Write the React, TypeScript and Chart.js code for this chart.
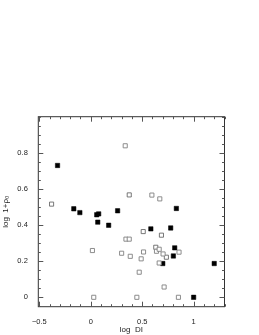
import React, { useEffect, useRef } from "react";
import { Chart, registerables } from "chart.js";

Chart.register(...registerables);

const filledX = [-0.323, -0.165, -0.106, 0.058, 0.077, 0.068, 0.174, 0.261, 0.584, 0.777, 0.832, 0.816, 0.803, 0.7, 1.2, 1.0];
const filledY = [0.73, 0.49, 0.469, 0.457, 0.462, 0.416, 0.399, 0.479, 0.379, 0.384, 0.492, 0.274, 0.229, 0.187, 0.187, 0.0];

const openX = [0.335, 0.594, 0.671, 0.342, 0.374, 0.016, 0.3, 0.384, 0.513, 0.49, 0.471, 0.639, 0.665, 0.703, 0.858, 0.665, 0.713, 0.029, 0.448, 0.852];
const openY = [0.839, 0.566, 0.545, 0.322, 0.322, 0.259, 0.244, 0.227, 0.251, 0.213, 0.139, 0.255, 0.266, 0.24, 0.25, 0.19, 0.057, 0.0, 0.0, 0.0];

const crossX = [-0.381, 0.374, 0.51, 0.687, 0.632, 0.735];
const crossY = [0.516, 0.567, 0.364, 0.344, 0.277, 0.222];

const xMajorTicks = [-0.5, 0, 0.5, 1];
const yMajorTicks = [0, 0.2, 0.4, 0.6, 0.8];
const xMinorStep = 0.1;
const yMinorStep = 0.05;

const xTitle = "log  DI";
const yTitle = "log  1+ρ₀";

const pts = (xs: number[], ys: number[]) => xs.map((x, i) => ({ x, y: ys[i] }));

const fmt = (v: number) => (v < 0 ? "\u2212" + String(Math.abs(v)) : String(v));

const frameTicks = {
  id: "frameTicks",
  beforeDatasetsDraw(chart: any) {
    const { ctx, chartArea: a, scales } = chart;
    const xs = scales.x;
    const ys = scales.y;
    ctx.save();
    ctx.strokeStyle = "#333";
    ctx.lineWidth = 1;
    ctx.strokeRect(a.left, a.top, a.right - a.left, a.bottom - a.top);
    ctx.strokeStyle = "#555";
    const majorLen = 5;
    const minorLen = 2.5;
    const isMajor = (v: number, arr: number[]) => arr.some((m) => Math.abs(m - v) < 1e-6);
    ctx.beginPath();
    for (let v = Math.ceil(xs.min / xMinorStep) * xMinorStep; v <= xs.max + 1e-9; v += xMinorStep) {
      const vv = Math.round(v * 1000) / 1000;
      const px = Math.round(xs.getPixelForValue(vv)) + 0.5;
      const len = isMajor(vv, xMajorTicks) ? majorLen : minorLen;
      ctx.moveTo(px, a.bottom);
      ctx.lineTo(px, a.bottom - len);
      ctx.moveTo(px, a.top);
      ctx.lineTo(px, a.top + len);
    }
    for (let v = Math.ceil(ys.min / yMinorStep) * yMinorStep; v <= ys.max + 1e-9; v += yMinorStep) {
      const vv = Math.round(v * 1000) / 1000;
      const py = Math.round(ys.getPixelForValue(vv)) + 0.5;
      const len = isMajor(vv, yMajorTicks) ? majorLen : minorLen;
      ctx.moveTo(a.left, py);
      ctx.lineTo(a.left + len, py);
      ctx.moveTo(a.right, py);
      ctx.lineTo(a.right - len, py);
    }
    ctx.stroke();
    ctx.restore();
  },
};

export default function App() {
  const ref = useRef<HTMLCanvasElement | null>(null);
  useEffect(() => {
    if (!ref.current) return;
    const font = { family: "'Liberation Sans', Arial, sans-serif", size: 7.5 };
    const titleFont = { family: "'Liberation Sans', Arial, sans-serif", size: 8 };
    const chart = new Chart(ref.current, {
      type: "scatter",
      data: {
        datasets: [
          {
            label: "open",
            data: pts(openX, openY),
            pointStyle: "rect",
            pointRadius: 2.9,
            backgroundColor: "#ffffff",
            borderColor: "#808080",
            borderWidth: 0.9,
          },
          {
            label: "crossedBox",
            data: pts(crossX, crossY),
            pointStyle: "rect",
            pointRadius: 2.9,
            backgroundColor: "#ffffff",
            borderColor: "#6a6a6a",
            borderWidth: 0.9,
          },
          {
            label: "crossedX",
            data: pts(crossX, crossY),
            pointStyle: "crossRot",
            pointRadius: 2.2,
            backgroundColor: "#777777",
            borderColor: "#777777",
            borderWidth: 0.8,
          },
          {
            label: "filled",
            data: pts(filledX, filledY),
            pointStyle: "rect",
            pointRadius: 3.1,
            backgroundColor: "#000000",
            borderColor: "#000000",
            borderWidth: 0.5,
          },
        ],
      },
      options: {
        responsive: false,
        animation: false,
        events: [],
        layout: { padding: { left: 0, top: 116.7, right: 34.5, bottom: 0 } },
        plugins: { legend: { display: false }, tooltip: { enabled: false }, title: { display: false } },
        scales: {
          x: {
            type: "linear",
            min: -0.51,
            max: 1.3,
            grid: { display: false },
            border: { display: false },
            afterBuildTicks: (s: any) => {
              s.ticks = xMajorTicks.map((value) => ({ value }));
            },
            afterFit: (s: any) => {
              s.height = 28.3;
            },
            ticks: {
              autoSkip: false,
              maxRotation: 0,
              padding: 2.8,
              color: "#222",
              font,
              callback: (v: any) => fmt(Number(v)),
            },
            title: {
              display: true,
              text: xTitle,
              color: "#222",
              font: titleFont,
              padding: { top: 3.0, bottom: 0 },
            },
          },
          y: {
            type: "linear",
            min: -0.052,
            max: 1.0,
            grid: { display: false },
            border: { display: false },
            afterBuildTicks: (s: any) => {
              s.ticks = yMajorTicks.map((value) => ({ value }));
            },
            afterFit: (s: any) => {
              s.width = 38.3;
            },
            ticks: {
              autoSkip: false,
              padding: 2.5,
              color: "#222",
              font,
              callback: (v: any) => fmt(Number(v)),
            },
            title: {
              display: true,
              text: yTitle,
              color: "#222",
              font: titleFont,
              padding: { top: 0.5, bottom: 0 },
            },
          },
        },
      },
      plugins: [frameTicks],
    } as any);
    return () => chart.destroy();
  }, []);
  return (
    <div style={{ position: "absolute", left: 0, top: 0, width: 259, height: 335, background: "#fff" }}>
      <canvas ref={ref} width={259} height={335} style={{ width: 259, height: 335, display: "block" }} />
    </div>
  );
}
